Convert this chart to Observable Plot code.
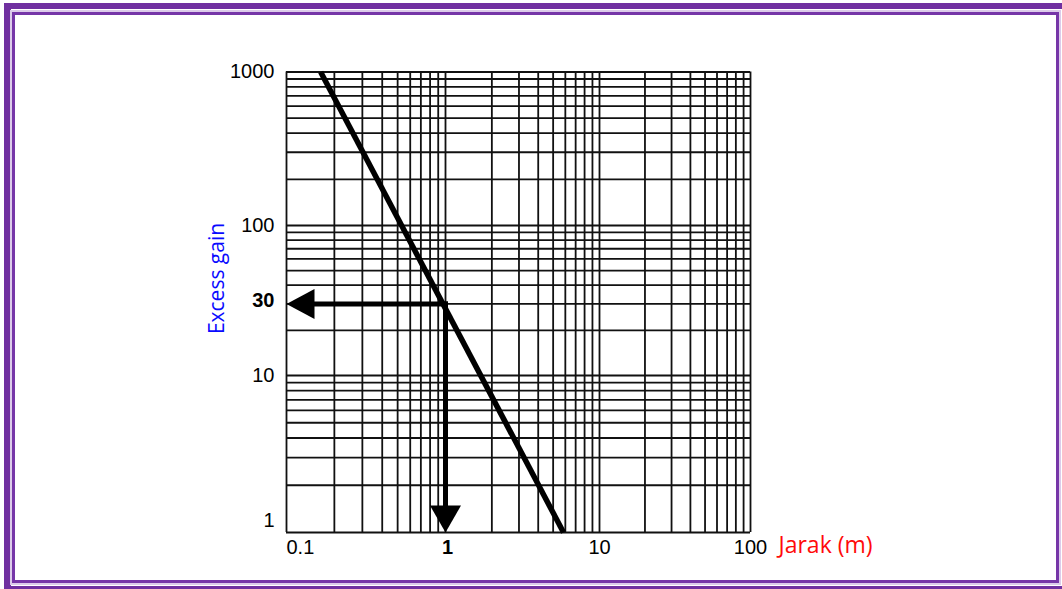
<!DOCTYPE html>
<html>
<head>
<meta charset="utf-8">
<script src="https://cdn.jsdelivr.net/npm/d3@7"></script>
<script src="https://cdn.jsdelivr.net/npm/@observablehq/plot@0.6"></script>
<style>
  html, body { margin: 0; padding: 0; background: #fff; }
  #wrap { position: relative; width: 1062px; height: 589px; overflow: hidden; background: #fff; }
  #chart { position: absolute; left: 0; top: 0; }
  .outer { position: absolute; left: 4px; top: 3px; width: 1080px; height: 586px; box-sizing: border-box;
           border-top: 6px solid #7030a0; border-left: 7px solid #7030a0; border-bottom: 3px solid #7030a0; }
  .inner { position: absolute; left: 12px; top: 12px; width: 1047px; height: 571px; box-sizing: border-box;
           border: 3px solid #7636a8; box-shadow: 0 0 0 2px #dccbea; }
</style>
</head>
<body>
<div id="wrap">
  <div id="chart"></div>
  <div class="outer"></div>
  <div class="inner"></div>
</div>
<script>
// ---- data ----
const xBreaks = [0.1, 1, 10, 100];
const yBreaks = [1, 10, 100, 1000];
const xGrid = [0.1, 0.2, 0.3, 0.4, 0.5, 0.6, 0.7, 0.8, 0.9,
               1, 2, 3, 4, 5, 6, 7, 8, 9,
               10, 20, 30, 40, 50, 60, 70, 80, 90, 100];
const yGrid = [1, 2, 3, 4, 5, 6, 7, 8, 9,
               10, 20, 30, 40, 50, 60, 70, 80, 90,
               100, 200, 300, 400, 500, 600, 700, 800, 900, 1000];
const yTickLabels = [1000, 100, 10];
const yBottomLabel = [1];
const xTickLabelsStart = [0.1];
const xTickLabelsMid = [10, 100];
const readDistance = [1];
const readGain = [30];
const curveDistance = [0.164, 5.84];
const curveGain = [1000, 1];
const xTitle = "Jarak (m)";
const yTitle = "Excess gain";

const curve = curveDistance.map((d, i) => ({x: d, y: curveGain[i]}));
const hShaft = [{x1: readDistance[0], y1: readGain[0], x2: xBreaks[0], y2: readGain[0]}];
const vShaft = [{x1: readDistance[0], y1: readGain[0], x2: readDistance[0], y2: yBreaks[0]}];
const hHead = [{x: xBreaks[0], y: readGain[0]}];
const vHead = [{x: readDistance[0], y: yBreaks[0]}];

const leftHead = {draw(ctx) { ctx.moveTo(0, 0); ctx.lineTo(28, -15); ctx.lineTo(28, 15); ctx.closePath(); }};
const downHead = {draw(ctx) { ctx.moveTo(0, 0); ctx.lineTo(-15.5, -27); ctx.lineTo(15.5, -27); ctx.closePath(); }};

const tickFont = {fontFamily: "Liberation Sans, Arial, sans-serif", fontSize: 20, fill: "#000"};
const gridStyle = {stroke: "#111", strokeWidth: 1.8};

const chart = Plot.plot({
  width: 1062,
  height: 589,
  marginLeft: 286,
  marginRight: 312,
  marginTop: 72,
  marginBottom: 57,
  style: {background: "transparent", overflow: "visible"},
  x: {type: "log", domain: xBreaks, range: [286, 445, 599, 750], axis: null},
  y: {type: "log", domain: yBreaks, range: [532, 375, 225, 71.5], axis: null},
  marks: [
    Plot.ruleX(xGrid, {x: d => d, y1: yBreaks[0], y2: yBreaks[3], ...gridStyle}),
    Plot.ruleY(yGrid, {y: d => d, x1: xBreaks[0], x2: xBreaks[3], ...gridStyle}),
    Plot.line(curve, {x: "x", y: "y", stroke: "#000", strokeWidth: 5.5, strokeLinecap: "butt"}),
    Plot.arrow(hShaft, {x1: "x1", y1: "y1", x2: "x2", y2: "y2", headLength: 0, insetEnd: 20,
                        stroke: "#000", strokeWidth: 5, strokeLinecap: "square"}),
    Plot.arrow(vShaft, {x1: "x1", y1: "y1", x2: "x2", y2: "y2", headLength: 0, insetEnd: 20,
                        stroke: "#000", strokeWidth: 5, strokeLinecap: "square"}),
    Plot.dot(hHead, {x: "x", y: "y", symbol: leftHead, r: 5, fill: "#000", stroke: "none"}),
    Plot.dot(vHead, {x: "x", y: "y", symbol: downHead, r: 5, fill: "#000", stroke: "none"}),
    // y tick labels
    Plot.text(yTickLabels, {y: d => d, text: d => String(d), frameAnchor: "left", textAnchor: "end", dx: -12, ...tickFont}),
    Plot.text(yBottomLabel, {y: d => d, text: d => String(d), frameAnchor: "left", textAnchor: "end", dx: -12, dy: -12, ...tickFont}),
    Plot.text(readGain, {y: d => d, text: d => String(d), frameAnchor: "left", textAnchor: "end", dx: -12, dy: -3, fontWeight: "bold", ...tickFont}),
    // x tick labels
    Plot.text(xTickLabelsStart, {x: d => d, text: d => String(d), frameAnchor: "bottom", textAnchor: "start", dy: 21, ...tickFont}),
    Plot.text(readDistance, {x: d => d, text: d => String(d), frameAnchor: "bottom", textAnchor: "middle", dx: 2, dy: 21, fontWeight: "bold", ...tickFont}),
    Plot.text(xTickLabelsMid, {x: d => d, text: d => String(d), frameAnchor: "bottom", textAnchor: "middle", dy: 21, ...tickFont}),
    // axis titles
    Plot.text([xTitle], {text: d => d, frameAnchor: "bottom-right", textAnchor: "start", dx: 28, dy: 20,
                         fill: "#ff0a0a", fontFamily: "Open Sans, sans-serif", fontSize: 23}),
    Plot.text([yTitle], {text: d => d, frameAnchor: "left", textAnchor: "middle", rotate: -90, dx: -69, dy: -24,
                         fill: "#0a0aff", fontFamily: "Open Sans, sans-serif", fontSize: 21})
  ]
});
document.getElementById("chart").appendChild(chart);
</script>
</body>
</html>
